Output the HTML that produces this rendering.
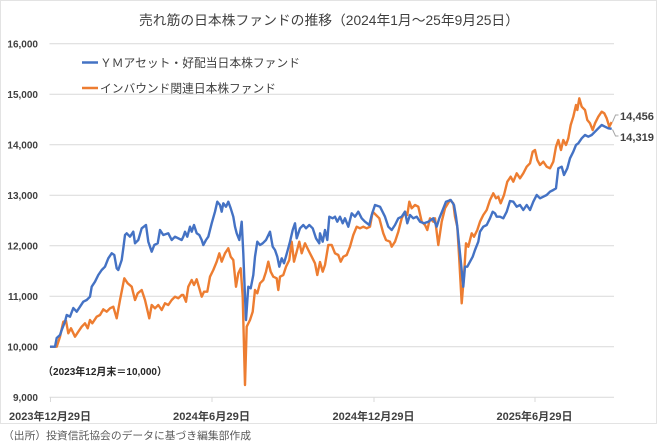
<!DOCTYPE html>
<html><head><meta charset="utf-8"><style>
html,body{margin:0;padding:0;background:#fff;}
svg{display:block;}
text{font-family:"Liberation Sans","Noto Sans CJK JP",sans-serif;}
</style></head><body>
<svg width="660" height="448" viewBox="0 0 660 448" xmlns="http://www.w3.org/2000/svg">
<rect x="0" y="0" width="660" height="448" fill="#fff"/>
<rect x="0.5" y="0.5" width="656" height="423" fill="none" stroke="#e3e3e3" stroke-width="1"/>
<!-- title -->
<text x="139" y="25" font-size="13.5" fill="#404040" textLength="380" lengthAdjust="spacingAndGlyphs">売れ筋の日本株ファンドの推移（2024年1月～25年9月25日）</text>
<!-- gridlines -->
<g stroke="#d9d9d9" stroke-width="1">
<line x1="49.5" x2="614" y1="43.7" y2="43.7"/>
<line x1="49.5" x2="614" y1="94.2" y2="94.2"/>
<line x1="49.5" x2="614" y1="144.7" y2="144.7"/>
<line x1="49.5" x2="614" y1="195.2" y2="195.2"/>
<line x1="49.5" x2="614" y1="245.8" y2="245.8"/>
<line x1="49.5" x2="614" y1="296.3" y2="296.3"/>
<line x1="49.5" x2="614" y1="346.8" y2="346.8"/>
<line x1="49.5" x2="614" y1="397.3" y2="397.3"/>
<line x1="50.5" x2="50.5" y1="397.3" y2="402"/>
<line x1="212" x2="212" y1="397.3" y2="402"/>
<line x1="374" x2="374" y1="397.3" y2="402"/>
<line x1="535" x2="535" y1="397.3" y2="402"/>
</g>
<!-- y labels -->
<g font-size="10" font-weight="bold" fill="#404040" text-anchor="end">
<text x="38" y="47.5">16,000</text>
<text x="38" y="98">15,000</text>
<text x="38" y="148.5">14,000</text>
<text x="38" y="199">13,000</text>
<text x="38" y="249.5">12,000</text>
<text x="38" y="300">11,000</text>
<text x="38" y="350.5">10,000</text>
<text x="38" y="401">9,000</text>
</g>
<!-- x labels -->
<g font-size="11" font-weight="bold" fill="#404040">
<text x="9" y="420" textLength="82" lengthAdjust="spacingAndGlyphs">2023年12月29日</text>
<text x="173" y="420" textLength="77" lengthAdjust="spacingAndGlyphs">2024年6月29日</text>
<text x="332.5" y="420" textLength="82" lengthAdjust="spacingAndGlyphs">2024年12月29日</text>
<text x="496.5" y="420" textLength="76" lengthAdjust="spacingAndGlyphs">2025年6月29日</text>
</g>
<!-- legend -->
<line x1="82" x2="98" y1="62.5" y2="62.5" stroke="#4472C4" stroke-width="2.5"/>
<text x="100" y="67" font-size="11.7" fill="#404040" textLength="200" lengthAdjust="spacingAndGlyphs">ＹＭアセット・好配当日本株ファンド</text>
<line x1="82" x2="98" y1="88" y2="88" stroke="#ED7D31" stroke-width="2.5"/>
<text x="100" y="92.5" font-size="11.7" fill="#404040" textLength="176" lengthAdjust="spacingAndGlyphs">インバウンド関連日本株ファンド</text>
<!-- series -->
<polyline fill="none" stroke="#ED7D31" stroke-width="2.4" stroke-linejoin="round" points="50,346.7 56.7,346.7 60,336.7 63.3,321.7 66,320.7 68.3,333.3 71,328.3 75,336.7 78.3,331.7 81.7,326.7 85,323.3 87.7,328.3 90,320 92.3,323.3 96.7,316.7 100,315 103.3,309.3 106.7,311.7 110,308.3 113.3,306.7 116.7,318.3 120,300 124.3,278.3 127.7,283.3 131.7,286.7 135,300 137.7,293.3 141.7,290 145,300 149.3,318.3 151.7,305 155,308.3 158.3,305 161.7,310 165,303.3 168.3,305 171.7,300 175,296.7 178.3,298.3 181.7,295 183.3,295 186,301.7 188.3,286.7 191.7,280 194,285 196.7,279.3 199.3,288.3 201.7,296.7 204,291.7 207.3,291.7 210,276.7 213.3,270 216.7,261.7 219.3,253.3 221.7,261.7 225,253.3 228.3,248.3 230.7,256.7 233.3,260 236,286.7 238.3,273.3 240.7,268.3 242.7,296.7 245,385 246.7,326.7 250,320 252.7,311.7 255,290 257.3,293.3 260,283.3 263.3,280 266,271.7 268.3,261.7 270.7,271.7 273.3,276.7 276.7,278.3 278.3,290 280,276.7 283.3,275 286,266.7 289.3,260 291.7,241.7 294,261.7 296.7,251.7 299.3,241.7 301.7,253.3 305,243.3 308.3,250 311.7,256.7 315,263.3 317.3,275 320,262 322.7,271.7 325,265 328.3,245 331.7,245 335,253.3 338.3,255 340.7,261.7 343.3,256.7 346.7,255 350,246.7 353.3,235 356.7,226.7 360,228.3 363.3,226.7 366.7,228.3 370,226.7 372.7,211.7 376,215 379.3,218.3 383.3,233.3 386,240 390,241.7 391.7,246.7 395,241.7 398.3,231.7 401.7,218.3 405,211.7 407.3,215 409.3,201.7 411.7,208.3 415,205 418.3,206.7 421.7,221.7 425,225 427.3,230 430,218.3 433.3,221.7 435,218.3 438.3,245 441.7,221.7 445,208.3 450,200 453.3,203.3 455,216.7 457.3,226.7 459.3,260 461.7,303.3 464,275 466,243.3 468.3,246.7 471.7,233.3 474,236.7 477.3,230 480,221.7 483.3,215 486.7,210 490,200 493.3,193.3 496,198.3 498.3,196.7 500.7,203.3 504,195 507.3,181.7 510.7,176.7 513.3,181.7 516.7,173.3 520,178.3 523.3,173.3 526.7,166.7 530,163.3 532.7,151.7 535,150 537.3,160 540,165 543.3,161.7 546.7,166.7 550,168.3 553.3,161.7 556,146.7 558.3,140 561,150 563.3,140 566,145 568.3,138.3 570.7,125 573.3,116.7 576,105 577.3,110 579.3,98.3 581.7,106.7 585,110 587.3,120 590,123.3 592.7,130 595,123.3 598.3,116.7 601.7,111.7 604.3,113.3 606.7,118.3 609.3,126.7 611.7,122"/>
<polyline fill="none" stroke="#4472C4" stroke-width="2.4" stroke-linejoin="round" points="50,346.7 55,346.7 56.7,338 60,335 61.7,330 65,321.7 66.7,315 70,316.7 73.3,308 76.7,311.7 80,306.7 83.3,301.7 86.7,300 90,296.7 91.7,286.7 95,281.7 98.3,275 101.7,270 105,266.7 108.3,258.3 111.7,253.3 114.3,255 116.7,268.3 118.3,270 121.7,260 123.3,248.3 125,235 126.7,233.3 130,236.7 133.3,231.7 135,243.3 138.3,240 141.7,228.3 146,225 148.3,241.7 151.7,251.7 154.3,245 157.7,243.3 160,230 163.3,235 168.3,233.3 171.7,240 175,236.7 181.7,240 183.3,236.7 185,231.7 187.3,236.7 190,226.7 191.7,231.7 194,225 196.7,233.3 199.3,235 201.7,240 203.3,245 206,240 208.3,236.7 211.7,223.3 215,211.7 217.3,201.7 220,205 221.7,211.7 223.3,203.3 226,206.7 228.3,201.7 230.7,208.3 233.3,216.7 235,226.7 236.7,233.3 239.3,240 241.7,221.7 243.3,253.3 245,296.7 246,320 248.3,286.7 250.7,288.3 253.3,275 255,256.7 257.3,241.7 260,245 262.7,243.3 266,240 270,231.7 272.7,246.7 275,250 277.3,256.7 279.3,266.7 281.7,258.3 284,263.3 287.3,251.7 290,241.7 292.7,230 295,223.3 296.7,238.3 300,228.3 303.3,225 306,228.3 309.3,225 312.7,228.3 316,238.3 319.3,243.3 320,233.3 322.7,241.7 325,230 327.3,240 329.3,216.7 332.7,218.3 335,216.7 337.3,221.7 340,216.7 342.7,223.3 345,218.3 348.3,226.7 351.7,213.3 355,216.7 358.3,211.7 361.7,218.3 365,221.7 369.3,225 371.7,215 375,205 380,206.7 385,216.7 388.3,226.7 391.7,230 395,225 398.3,218.3 401.7,216.7 405,211.7 407.3,223.3 410,215 413.3,218.3 416.7,216.7 420,221.7 424,223.3 428.3,221.7 433.3,218.3 436.7,226.7 439.3,218.3 442.7,210 446,201.7 450.7,200 454,205 456,216.7 457.3,226.7 459.3,246.7 461,263.3 463.3,286.7 465,266.7 467.3,266.7 470,261.7 472.7,256.7 475,250 478.3,241.7 480,231.7 483.3,226.7 486.7,225 490,218.3 492.7,211.7 495,213.3 496.7,216.7 500,216.7 503.3,218.3 506.7,211.7 510,201 513.3,201.7 516.7,206.7 520,205 523.3,210 526.7,205 530,210 533.3,201.7 536.7,195 540,198.3 543.3,196.7 546.7,195 550,191.7 553.3,190 556,188.3 558.3,168.3 561.7,166.7 564,175 567.3,168.3 570,158.3 573.3,151.7 576,145 578.3,143.3 581.7,138.3 585,135 588.3,136.7 591.7,135 595,131.7 598.3,128.3 601.7,125 605,126.7 608.3,128.3 611.7,128.8"/>
<!-- leaders & end labels -->
<polyline fill="none" stroke="#a6a6a6" stroke-width="1" points="612.5,122 615.5,115 618.5,115"/>
<polyline fill="none" stroke="#a6a6a6" stroke-width="1" points="612.5,129.5 615.5,136 618.5,136"/>
<g font-size="11" font-weight="bold" fill="#404040">
<text x="620" y="120" textLength="34" lengthAdjust="spacingAndGlyphs">14,456</text>
<text x="620" y="141" textLength="34" lengthAdjust="spacingAndGlyphs">14,319</text>
</g>
<!-- base note -->
<text x="43" y="375" font-size="10.5" font-weight="bold" fill="#262626" textLength="124" lengthAdjust="spacingAndGlyphs">（2023年12月末＝10,000）</text>
<!-- source -->
<text x="3" y="439" font-size="10.5" fill="#595959" textLength="248" lengthAdjust="spacingAndGlyphs">（出所）投資信託協会のデータに基づき編集部作成</text>
</svg>
</body></html>
